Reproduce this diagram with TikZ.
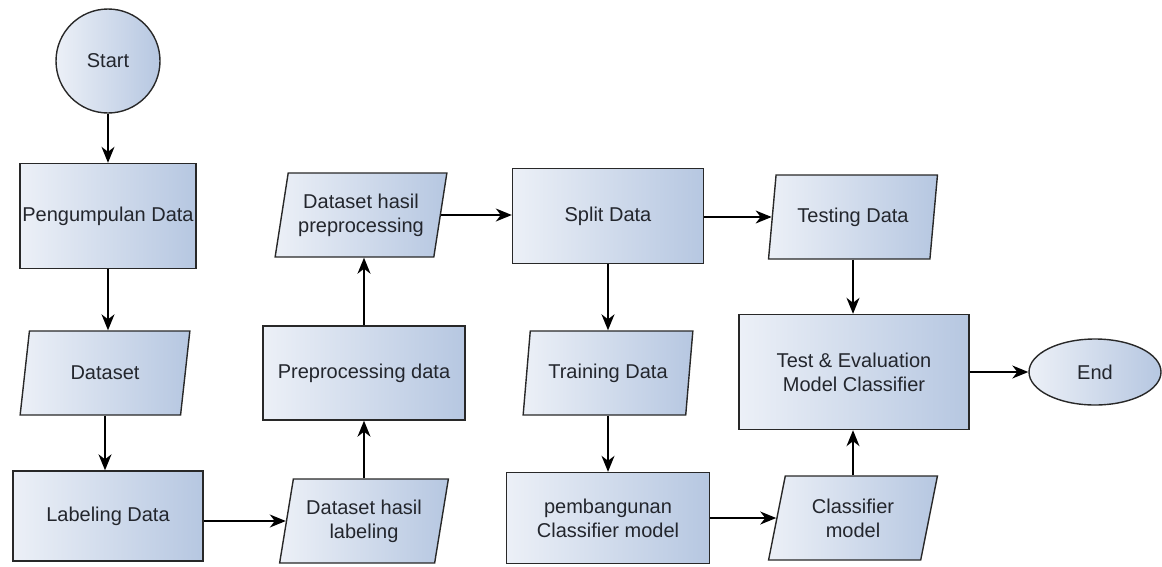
\documentclass[tikz,border=0pt]{standalone}
\usepackage{fontspec}
\setmainfont{Liberation Sans}
\usetikzlibrary{shapes.geometric,arrows.meta}
\definecolor{fillL}{RGB}{236,240,247}
\definecolor{fillR}{RGB}{182,199,225}
\definecolor{edge}{RGB}{40,40,40}
\definecolor{txt}{RGB}{35,38,45}
\tikzset{
  base/.style={draw=edge, line width=1.4pt, left color=fillL, right color=fillR,
    text=txt, align=center, inner sep=2pt,
    font=\fontsize{20}{24}\selectfont},
  procbox/.style={base, rectangle},
  iobox/.style={base, trapezium, trapezium left angle=76, trapezium right angle=104,
    trapezium stretches=true, minimum width=169pt, minimum height=84pt},
  termcircle/.style={base, circle, minimum size=104pt},
  termellipse/.style={base, ellipse, minimum width=132pt, minimum height=66pt},
  arr/.style={draw=black, line width=1.4pt, -{Stealth[length=16pt,width=13pt,inset=5pt]}},
}
\begin{document}
\begin{tikzpicture}[x=1pt,y=-1pt]
\useasboundingbox (0,0) rectangle (1162,566);
% column 1
\node[termcircle] (start) at (108,61) {Start};
\node[procbox, minimum width=176pt, minimum height=105pt] (peng) at (108,216) {Pengumpulan Data};
\node[iobox, minimum width=170pt] (dataset) at (105,373) {Dataset};
\node[procbox, minimum width=190pt, minimum height=90pt] (label) at (108,516) {Labeling Data};
% column 2
\node[iobox, minimum width=172pt] (dhp) at (361,215) {Dataset hasil\\preprocessing};
\node[procbox, minimum width=202pt, minimum height=94pt] (prep) at (364,373) {Preprocessing data};
\node[iobox] (dhl) at (364,521) {Dataset hasil\\labeling};
% column 3
\node[procbox, minimum width=191pt, minimum height=95pt] (split) at (608,216) {Split Data};
\node[iobox, minimum width=170pt] (train) at (608,373) {Training Data};
\node[procbox, minimum width=203pt, minimum height=91pt] (pemb) at (608,518) {pembangunan\\Classifier model};
% column 4
\node[iobox] (test) at (853,217) {Testing Data};
\node[procbox, minimum width=230pt, minimum height=115pt] (eval) at (854,372) {Test \& Evaluation\\Model Classifier};
\node[iobox] (clsm) at (853,518) {Classifier\\model};
\node[termellipse] (end) at (1095,372) {End};
% connectors
\draw[arr] (start) -- (peng);
\draw[arr] (peng.south) -- (peng.south |- dataset.north);
\draw[arr] (dataset.south) -- (dataset.south |- label.north);
\draw[arr] (label.east |- dhl.west) -- (dhl.west);
\draw[arr] (dhl.north -| prep.south) -- (prep.south);
\draw[arr] (prep.north) -- (prep.north |- dhp.south);
\draw[arr] (dhp.east) -- (dhp.east -| split.west);
\draw[arr] (split.east |- test.west) -- (test.west);
\draw[arr] (split.south) -- (split.south |- train.north);
\draw[arr] (train.south) -- (train.south |- pemb.north);
\draw[arr] (pemb.east) -- (pemb.east -| clsm.west);
\draw[arr] (clsm.north) -- (clsm.north |- eval.south);
\draw[arr] (test.south) -- (test.south |- eval.north);
\draw[arr] (eval.east |- end.west) -- (end.west);
\end{tikzpicture}
\end{document}
